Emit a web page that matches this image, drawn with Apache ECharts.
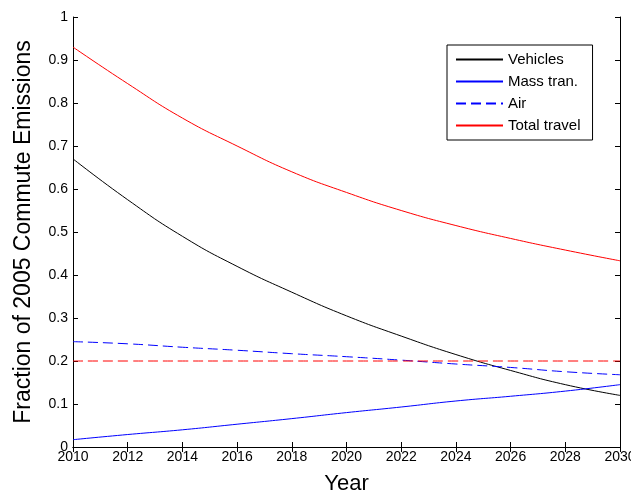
<!DOCTYPE html>
<html>
<head>
<meta charset="utf-8">
<script src="https://cdn.jsdelivr.net/npm/echarts@6/dist/echarts.min.js"></script>
<style>
  html, body { margin: 0; padding: 0; background: #fff; }
  #chart { width: 631px; height: 493px; }
</style>
</head>
<body>
<div id="chart"></div>
<script>
var years = [2010, 2012, 2014, 2016, 2018, 2020, 2022, 2024, 2026, 2028, 2030];
var vehicles = [0.67, 0.575, 0.49, 0.42, 0.36, 0.305, 0.258, 0.215, 0.178, 0.145, 0.12];
var massTran = [0.017, 0.029, 0.040, 0.053, 0.066, 0.080, 0.093, 0.107, 0.118, 0.130, 0.145];
var air = [0.245, 0.240, 0.232, 0.225, 0.217, 0.210, 0.202, 0.193, 0.185, 0.175, 0.168];
var totalTravel = [0.93, 0.845, 0.765, 0.70, 0.64, 0.592, 0.55, 0.515, 0.485, 0.458, 0.433];
var baseline = [0.2, 0.2, 0.2, 0.2, 0.2, 0.2, 0.2, 0.2, 0.2, 0.2, 0.2];

function pairs(vals) {
  return years.map(function(y, i) { return [y, vals[i]]; });
}

var chart = echarts.init(document.getElementById('chart'));
var font = 'Liberation Sans, Arial, Helvetica, sans-serif';

function line(name, vals, color, dashed) {
  return {
    name: name,
    type: 'line',
    data: pairs(vals),
    smooth: true,
    symbol: 'none',
    showSymbol: false,
    silent: true,
    lineStyle: { color: color, width: 1, type: dashed ? [10, 5] : 'solid' },
    itemStyle: { color: color }
  };
}

var option = {
  animation: false,
  backgroundColor: '#fff',
  textStyle: { fontFamily: font },
  grid: { left: 73, right: 11, top: 17, bottom: 46, show: false, outerBoundsMode: 'none', containLabel: false },
  legend: {
    orient: 'vertical',
    left: 447,
    top: 45,
    padding: [7, 12, 7, 8],
    itemWidth: 47,
    itemHeight: 15,
    itemGap: 7,
    backgroundColor: '#fff',
    borderColor: '#000',
    borderWidth: 1,
    borderRadius: 0,
    selectedMode: false,
    itemStyle: { opacity: 0 },
    textStyle: { fontSize: 15, color: '#000', fontFamily: font },
    data: ['Vehicles', 'Mass tran.', 'Air', 'Total travel']
  },
  xAxis: [{
    type: 'value',
    min: 2010,
    max: 2030,
    interval: 2,
    name: 'Year',
    nameLocation: 'middle',
    nameGap: 26,
    nameTextStyle: { fontSize: 22, color: '#000', fontFamily: font },
    splitLine: { show: false },
    axisLine: { lineStyle: { color: '#000', width: 1 } },
    axisTick: { inside: true, length: 5, lineStyle: { color: '#000' } },
    axisLabel: { color: '#000', fontSize: 14, margin: 3, fontFamily: font,
      formatter: function(v) { return String(v); } }
  }, {
    type: 'value',
    position: 'top',
    min: 2010,
    max: 2030,
    interval: 2,
    splitLine: { show: false },
    axisLine: { show: true, lineStyle: { color: '#000', width: 1 } },
    axisTick: { inside: true, length: 5, lineStyle: { color: '#000' } },
    axisLabel: { show: false }
  }],
  yAxis: [{
    type: 'value',
    min: 0,
    max: 1,
    interval: 0.1,
    name: 'Fraction of 2005 Commute Emissions',
    nameLocation: 'middle',
    nameGap: 38,
    nameTextStyle: { fontSize: 23, color: '#000', fontFamily: font },
    splitLine: { show: false },
    axisLine: { show: true, lineStyle: { color: '#000', width: 1 } },
    axisTick: { inside: true, length: 5, lineStyle: { color: '#000' } },
    axisLabel: { color: '#000', fontSize: 14, margin: 5, fontFamily: font }
  }, {
    type: 'value',
    position: 'right',
    min: 0,
    max: 1,
    interval: 0.1,
    splitLine: { show: false },
    axisLine: { show: true, lineStyle: { color: '#000', width: 1 } },
    axisTick: { inside: true, length: 5, lineStyle: { color: '#000' } },
    axisLabel: { show: false }
  }],
  series: [
    line('Vehicles', vehicles, '#000000', false),
    line('Mass tran.', massTran, '#0000ff', false),
    line('Air', air, '#0000ff', true),
    line('Total travel', totalTravel, '#ff0000', false),
    line('baseline', baseline, '#ff0000', true)
  ]
};

chart.setOption(option);
</script>
</body>
</html>
